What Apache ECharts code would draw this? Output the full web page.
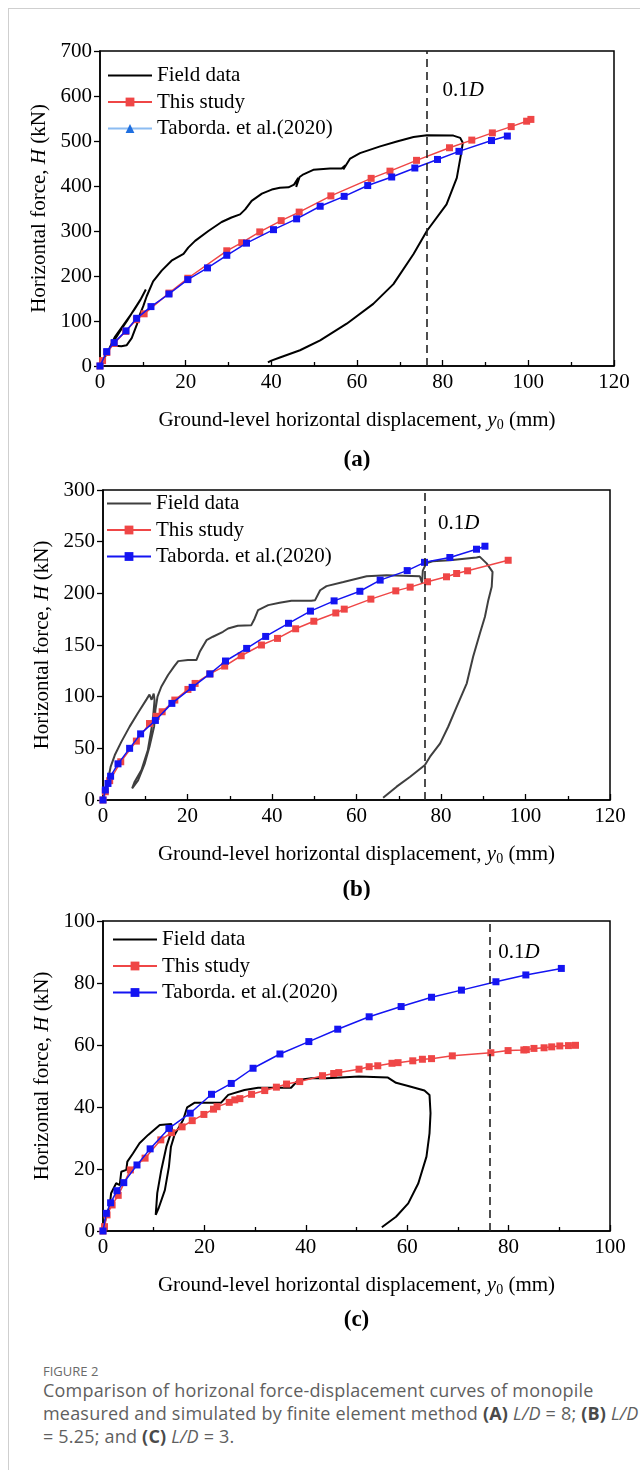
<!DOCTYPE html>
<html><head><meta charset="utf-8">
<script src="https://cdn.jsdelivr.net/npm/echarts@6/dist/echarts.min.js"></script>
<style>
html,body{margin:0;padding:0;background:#fff;width:640px;height:1470px;overflow:hidden;position:relative;}
#frame{position:absolute;left:8px;top:8px;width:700px;height:1500px;border-left:1px solid #cfcfcf;border-top:1px solid #cfcfcf;}
.chart{position:absolute;left:0;width:640px;}
#chartA{top:0;height:472px;}
#chartB{top:472px;height:428px;}
#chartC{top:900px;height:445px;}
#caption{position:absolute;left:43px;top:1363px;white-space:nowrap;font-family:"Open Sans","Noto Sans",sans-serif;color:#5f5f5f;}
#caption .fig{font-size:13px;line-height:16px;color:#6a6a6a;}
#caption .txt{font-size:18px;line-height:23.2px;letter-spacing:0.2px;}
#caption b{font-weight:700;color:#4a4a4a;}
</style>
</head><body>
<div id="frame"></div>
<div id="chartA" class="chart"></div>
<div id="chartB" class="chart"></div>
<div id="chartC" class="chart"></div>
<div id="caption">
<div class="fig">FIGURE 2</div>
<div class="txt">Comparison of horizonal force-displacement curves of monopile<br>measured and simulated by finite element method <b>(A)</b> <i>L/D</i> = 8; <b>(B)</b> <i>L/D</i><br>= 5.25; and <b>(C)</b> <i>L/D</i> = 3.</div>
</div>
<script>
// ---------- data ----------
const DISP_01D = 76.2;               // 0.1D (mm)
const seriesNames = ['Field data', 'This study', 'Taborda. et al.(2020)'];
const panelLabels = ['(a)', '(b)', '(c)'];
const xMaxs = [120, 120, 100];
const yMaxs = [700, 300, 100];
const yIntervals = [100, 50, 20];

// Panel (a)  L/D = 8
const fieldA = [[0,0],[0.8,15],[1.8,30],[2.8,52],[3.5,65],[5,85],[6.5,105],[8,125],[9.5,148],[10.7,170],
 [9.6,150],[8,126],[6.4,102],[4.6,76],[3.4,58],[2.8,48],[3.5,45],[5,44],[6.2,46],[7.4,62],[8.6,92],[9.3,114],[10.1,133],[10.9,155],
 [12.4,188],[14.4,212],[16.7,234],[19.5,249],[20.6,263],[22.2,278],[25.3,300],[28.4,320],[30.7,330],[32.7,337],[33.9,348],[35.4,367],
 [37.8,383],[40.1,392],[42,396],[44,397],[45.3,403],[46.3,418],[45.8,398],[46.6,420],[47.5,426],[49.8,436],[53.7,439],[56.4,439],
 [57.3,446],[56.8,437],[57.6,449],[58.4,461],[60.7,473],[65.4,488],[69.3,499],[73.2,509],[76.3,513],[82.5,512],[84.1,507],[84.7,496],
 [84.4,477],[83.3,418],[80.9,359],[76.3,300],[73.2,249],[68.5,182],[63.8,138],[57.6,94],[51.4,57],[46.7,35],[42,19],[40,12],[39.2,8]];
const studyA = [[0,0],[0.6,12],[1.6,30],[3.3,50],[6,77],[8.5,103],[10.3,116],[16.1,162],[20.5,195],[29.6,256],[33.1,274],[37.3,298],
 [42.3,323],[46.5,342],[53.9,378],[63.3,417],[67.7,433],[73.9,457],[81.6,485],[86.8,502],[91.6,518],[96.0,532],[99.6,544],[100.6,548]];
const tabordaA = [[0,0],[1.56,32],[3.3,52],[6.07,78],[8.56,106],[11.9,132],[16.1,160],[20.5,192],[25.1,218],[29.6,246],[34.2,273],
 [40.5,303],[45.9,327],[51.4,355],[57.0,377],[62.5,401],[68.1,420],[73.5,440],[78.8,459],[83.8,477],[91.4,501],[95.1,511]];

// Panel (b)  L/D = 5.25
const fieldB = [[0,0],[0.8,12],[1.8,32],[2.8,43.5],[4.3,56],[6.3,71],[8.3,84.5],[10.3,97.4],[11.0,102],[11.5,97],[12.0,103],[12.2,96.7],
 [11.8,77],[10.6,48],[9.1,29],[7.5,17.7],[6.9,11.3],[8.3,19],[9.9,35.5],[11.0,51.6],[12.1,71],[12.4,87],[12.9,100],[13.8,109.6],
 [15.4,121],[16.8,129],[17.8,134.4],[20.1,135.4],[22.1,135.4],[22.9,143.4],[24.5,154.7],[26.0,158],[28.4,162.8],[29.6,166],[31.9,168.6],
 [35.1,169.2],[35.9,175.7],[36.7,183.8],[39.1,188.6],[41.8,190.8],[44.6,192.8],[49.3,192.8],[50.2,193.4],[51.4,203],[52.9,207],
 [56.9,211],[62.4,216.6],[67.1,217.6],[75.0,216.6],[75.5,210],[75.7,222],[76.5,229],[78,231],[82.1,232],[88.4,234.7],[89.2,235.3],
 [90.8,229],[92.2,220.8],[92.0,206.3],[91.2,193.4],[90.4,177.3],[89.2,161.2],[87.6,138.6],[86.1,112.9],[83.7,90.2],[81.7,70.9],
 [79.8,54.8],[77.4,41.9],[76.2,33.8],[72.7,22.5],[69.5,12.9],[66.3,2.2]];
const studyB = [[0,0],[0.55,8],[1.58,18.7],[4.2,37],[7.9,57],[11.0,74],[12.6,81],[14.0,85.4],[17.0,96.7],[20.1,107],[21.8,112.8],
 [25.3,122],[28.8,129.6],[32.7,139.6],[37.5,150],[41.3,156.4],[45.6,165.7],[49.9,173],[55.1,181],[57.1,184.7],[63.4,194.4],[69.3,202.4],
 [72.7,206],[76.8,211.2],[81.3,216],[83.7,219.2],[86.3,221.8],[95.9,232]];
const tabordaB = [[0,0],[0.55,9.7],[1.18,16],[1.8,23],[3.55,35],[6.3,50],[8.9,64],[12.4,77],[16.3,93.5],[21.1,109],[25.3,122],
 [29.0,134.5],[34.0,146.7],[38.5,158.3],[43.9,171],[49.1,182.8],[54.7,192.7],[60.8,202],[65.6,212.8],[72.0,222],[76.1,230],
 [82.1,234.7],[88.4,242.7],[90.4,245.6]];

// Panel (c)  L/D = 3
const fieldC = [[0,0],[0.45,3.5],[1.3,7.8],[1.6,12.2],[2.6,15.4],[3.3,14.8],[3.6,19.1],[4.6,19.7],[4.8,22.4],[5.9,25],[7.2,28.3],
 [8.9,31],[11.2,34.2],[13.5,34.5],[13.6,32.6],[12.5,27.2],[11.5,19.7],[10.7,12.2],[10.4,5.2],[11.0,7.5],[12.2,13.2],[13.0,20.7],
 [13.4,27.2],[14.1,31],[15.8,35.8],[16.6,39.9],[18.1,41.4],[23.3,41.4],[24.7,43.9],[27.9,45.5],[30.6,46.2],[37.1,46.2],[38.5,48.7],
 [41.1,49.3],[44.1,49.3],[50.5,49.8],[56.2,49.5],[57.8,47.8],[60.2,46.8],[63.4,45.3],[64.4,43.9],[64.6,38],[64.4,31.5],[63.8,24],
 [62.2,15.4],[60.2,8.9],[57.8,4.6],[55.0,1.2]];
const studyC = [[0,0],[0.3,1.4],[0.8,5.2],[1.8,8.4],[3.0,11.5],[5.4,19.7],[8.3,23.5],[11.4,29.4],[13.5,31.7],[15.6,33.6],[17.6,35.6],
 [19.9,37.6],[21.8,39.3],[22.5,40.1],[24.9,41.5],[26.0,42.3],[27.0,42.7],[29.3,44.1],[31.9,45.3],[34.2,46.4],[36.2,47.4],[38.8,48.2],
 [43.3,50.1],[45.5,50.8],[46.5,51.1],[50.5,52.2],[52.5,53],[54.2,53.3],[57.0,54.1],[58.2,54.3],[61.1,54.9],[63.0,55.4],[64.8,55.6],
 [68.9,56.5],[76.5,57.5],[79.9,58.2],[83.0,58.4],[83.5,58.5],[85.0,58.9],[87.0,59.1],[88.5,59.4],[90.1,59.7],[91.8,59.8],[93.2,59.9]];
const tabordaC = [[0,0],[0.66,5.7],[1.5,9.1],[2.76,13],[4.1,15.6],[6.7,21.3],[9.3,26.5],[13.0,33.1],[17.2,38],[21.4,44.1],[25.3,47.6],
 [29.6,52.5],[34.9,57.1],[40.6,61.1],[46.3,65.1],[52.5,69.1],[58.8,72.4],[64.8,75.4],[70.7,77.7],[77.5,80.4],[83.4,82.6],[90.4,84.7]];

// ---------- styling / layout ----------
const FONT = '"Liberation Serif","Times New Roman",serif';
const FS = 21;
const RED = '#ef4646';
const BLUE = '#1414f2';
const panels = [
  {el:'chartA', field:fieldA, study:studyA, tab:tabordaA, fieldColor:'#000',
   grid:{left:100, top:51, width:514, height:315}, legendTop:65, legendLeft:107, labelY:460,
   textDx:16, textDy:39, triangleLegend:true},
  {el:'chartB', field:fieldB, study:studyB, tab:tabordaB, fieldColor:'#3f3f3f',
   grid:{left:103, top:18, width:507, height:310}, legendTop:21, legendLeft:106, labelY:418,
   textDx:13, textDy:33, triangleLegend:false},
  {el:'chartC', field:fieldC, study:studyC, tab:tabordaC, fieldColor:'#000',
   grid:{left:103, top:21, width:507, height:310}, legendTop:29, legendLeft:112, labelY:420,
   textDx:9, textDy:31, triangleLegend:false}
];

const richName = {
  t:{fontFamily:FONT, fontSize:FS, color:'#000', lineHeight:24},
  i:{fontFamily:FONT, fontSize:FS, fontStyle:'italic', color:'#000', lineHeight:24},
  s:{fontFamily:FONT, fontSize:14, color:'#000', verticalAlign:'bottom', lineHeight:14}
};

panels.forEach(function(p, k){
  const chart = echarts.init(document.getElementById(p.el), null, {renderer:'canvas'});
  const series = [];
  if (p.triangleLegend) {
    // legend entry as drawn in panel (a): light-blue line with triangle marker
    series.push({type:'line', name:seriesNames[2], data:[], symbol:'triangle', symbolSize:9,
      itemStyle:{color:'#1f6fe0'}, lineStyle:{color:'#8cbcf2', width:1.5}});
  }
  series.push({type:'line', name:seriesNames[0], data:p.field, symbol:'none', z:2,
    lineStyle:{color:p.fieldColor, width:2}, itemStyle:{color:p.fieldColor},
    markLine:{silent:true, symbol:['none','none'], label:{show:false}, animation:false,
      lineStyle:{color:'#222', width:1.6, type:[8,5]}, data:[{xAxis:DISP_01D}]}});
  series.push({type:'line', name:seriesNames[1], data:p.study, symbol:'rect', symbolSize:7, showAllSymbol:true, z:3,
    lineStyle:{color:RED, width:1.5}, itemStyle:{color:RED}});
  series.push({type:'line', name:seriesNames[2], data:p.tab, symbol:'rect', symbolSize:7, showAllSymbol:true, z:4,
    lineStyle:{color:BLUE, width:1.5}, itemStyle:{color:BLUE}});

  chart.setOption({
    animation:false,
    backgroundColor:'transparent',
    grid:Object.assign({show:true, borderColor:'#000', borderWidth:1.5, backgroundColor:'transparent'}, p.grid),
    legend:{orient:'vertical', left:p.legendLeft, top:p.legendTop, padding:0, itemWidth:44, itemHeight:11, itemGap:5.5,
      selectedMode:false,
      data:[{name:seriesNames[0], itemStyle:{opacity:0}}, {name:seriesNames[1]}, {name:seriesNames[2]}],
      textStyle:{fontFamily:FONT, fontSize:FS, color:'#000', lineHeight:20}},
    xAxis:{type:'value', min:0, max:xMaxs[k], interval:20,
      axisLine:{show:true, onZero:false, lineStyle:{color:'#000', width:1.5}},
      axisTick:{show:true, inside:true, length:6, lineStyle:{color:'#000', width:1.3}},
      minorTick:{show:true, splitNumber:2, length:4, lineStyle:{color:'#000', width:1.3}},
      axisLabel:{color:'#000', fontFamily:FONT, fontSize:FS, margin:6},
      splitLine:{show:false},
      name:'{t|Ground-level horizontal displacement, }{i|y}{s|0}{t| (mm)}',
      nameLocation:'middle', nameGap:42, nameTextStyle:{rich:richName}},
    yAxis:{type:'value', min:0, max:yMaxs[k], interval:yIntervals[k],
      axisLine:{show:true, onZero:false, lineStyle:{color:'#000', width:1.5}},
      axisTick:{show:true, inside:false, length:6, lineStyle:{color:'#000', width:1.3}},
      axisLabel:{color:'#000', fontFamily:FONT, fontSize:FS, margin:8},
      splitLine:{show:false},
      name:'{t|Horizontal force, }{i|H}{t| (kN)}',
      nameLocation:'middle', nameGap:47, nameRotate:90, nameTextStyle:{rich:richName}},
    series:series
  });

  const top = chart.convertToPixel({gridIndex:0}, [DISP_01D, yMaxs[k]]);
  chart.setOption({
    graphic:[
      {type:'text', x:top[0] + p.textDx, y:top[1] + p.textDy, silent:true,
       style:{text:'{n|0.1}{i|D}', verticalAlign:'middle', align:'left',
         rich:{n:{fontFamily:FONT, fontSize:FS, fill:'#000'}, i:{fontFamily:FONT, fontSize:FS, fontStyle:'italic', fill:'#000'}}}},
      {type:'text', x:p.grid.left + p.grid.width/2, y:p.labelY, silent:true,
       style:{text:panelLabels[k], align:'center', verticalAlign:'middle',
         fontFamily:FONT, fontSize:23, fontWeight:'bold', fill:'#000'}}
    ]
  });
});
</script>
</body></html>
